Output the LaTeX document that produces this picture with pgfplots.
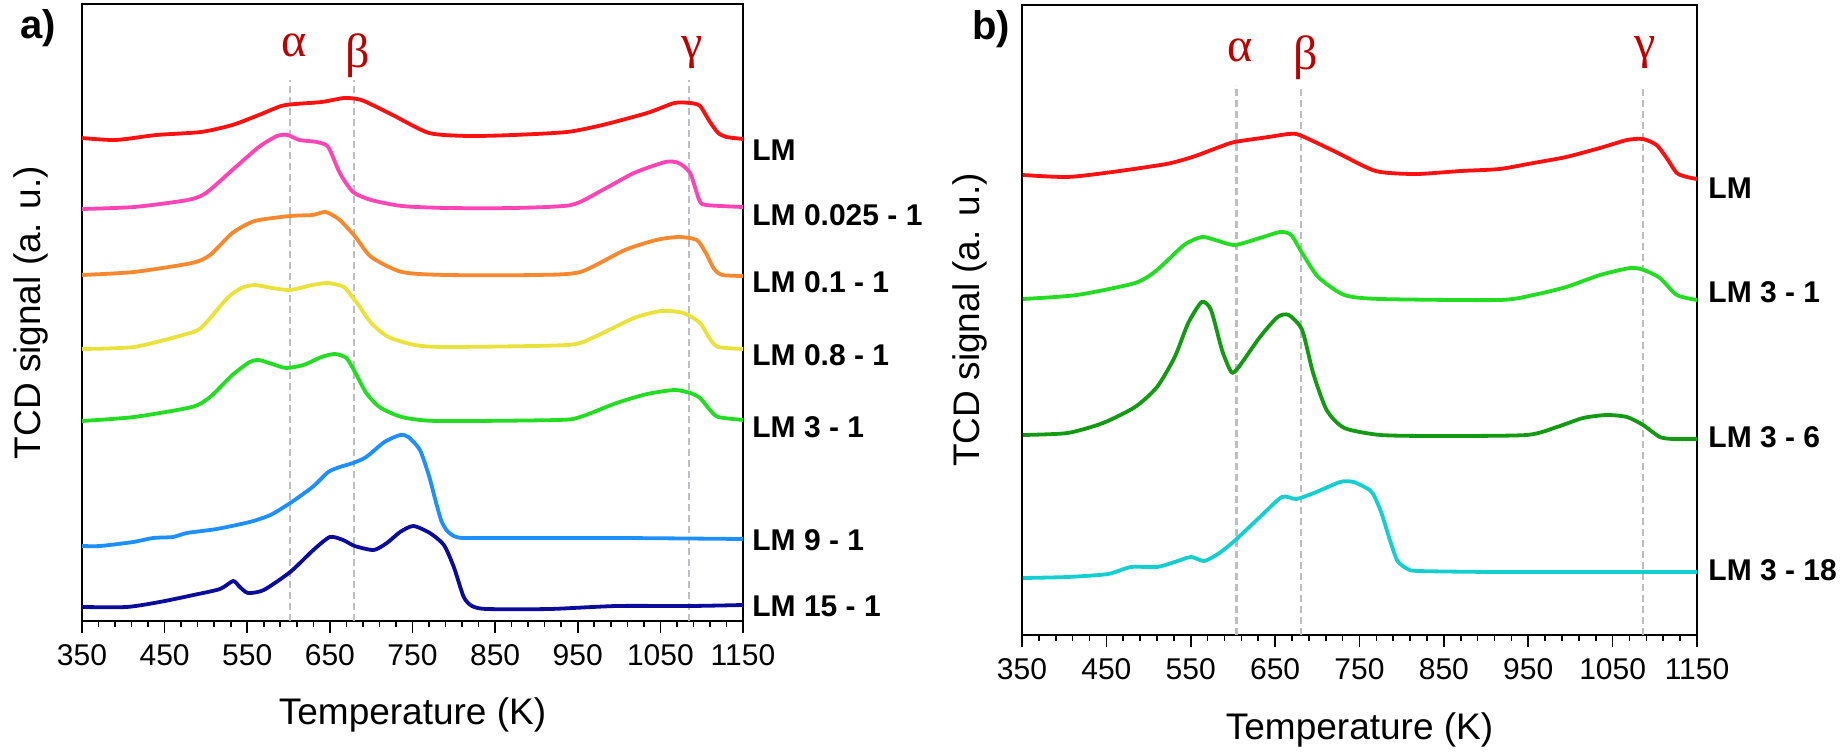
\documentclass[border=0pt]{standalone}
\usepackage{fontspec}
\setmainfont{Liberation Sans}
\newfontfamily\greekfont{Liberation Serif}
\usepackage{pgfplots}
\pgfplotsset{compat=1.18}
\definecolor{cRed}{HTML}{FF1010}
\definecolor{cPink}{HTML}{FF45B5}
\definecolor{cOrange}{HTML}{F8882E}
\definecolor{cYellow}{HTML}{E9E23A}
\definecolor{cGreen}{HTML}{22DD22}
\definecolor{cLBlue}{HTML}{1E8FFF}
\definecolor{cDBlue}{HTML}{0C0C9C}
\definecolor{cDGreen}{HTML}{129A12}
\definecolor{cCyan}{HTML}{14CFD0}
\definecolor{gkred}{HTML}{C00000}
\definecolor{dashgray}{HTML}{BDBDC4}
\pgfplotsset{
 tpr/.style={
  scale only axis, xmin=350, xmax=1150,
  xtick={350,450,...,1150}, minor x tick num=4,
  ytick=\empty,
  tick align=outside, xtick pos=bottom,
  major tick length=6pt, minor tick length=3pt,
  tick style={black, line width=0.8pt},
  axis line style={black, line width=1.1pt},
  tick label style={font=\fontsize{15}{15}\selectfont},
  xticklabel style={yshift=-2pt},
  /pgf/number format/assume math mode=true,
  /pgf/number format/1000 sep={},
  label style={font=\fontsize{18.5}{18.5}\selectfont},
  clip=false,
  every axis plot/.append style={line width=1.9pt, smooth, tension=0.4, no markers},
 },
}
\tikzset{
 dashv/.style={dashgray, line width=1.2pt, dash pattern=on 3.5pt off 2pt, sharp plot},
 rlab/.style={anchor=west, inner sep=0pt, font=\bfseries\fontsize{15}{15}\selectfont},
 gk/.style={inner sep=0pt, text=gkred, font=\greekfont\fontsize{24}{24}\selectfont},
}
\begin{document}
\begin{tikzpicture}
\useasboundingbox (0,0) rectangle (923.5pt,375.5pt);
\node[font=\bfseries\fontsize{20}{20}\selectfont, inner sep=0pt] at (19pt,361.25pt) {a)};
\node[font=\bfseries\fontsize{20}{20}\selectfont, inner sep=0pt] at (495.5pt,361pt) {b)};
% ---------------- panel a
\begin{axis}[tpr, at={(41pt,65pt)}, anchor=south west, width=330.5pt, height=308.5pt,
  ymin=0, ymax=617,
  xlabel={Temperature (K)}, ylabel={TCD signal (a. u.)},
  xlabel style={at={(axis description cs:0.5,-0.1524)}, anchor=center},
  ylabel style={at={(axis description cs:-0.0772,0.5)}, anchor=center}]
\addplot[dashv] coordinates {(602,0) (602,541)};
\addplot[dashv] coordinates {(679,0) (679,541)};
\addplot[dashv] coordinates {(1085,0) (1085,541)};
\addplot[cRed] coordinates {(350,483)(391,481)(440,486)(494,489)(532,496)(564,506)(591,515)(608,517)(640,519)(667,523)(683,522)(694,519)(726,506)(770,488)(818,485)(872,486)(937,489)(980,496)(1034,508)(1067,518)(1086,518)(1098,515)(1110,499)(1120,488)(1130,484)(1150,482)};
\addplot[cPink] coordinates {(350,412)(413,414)(478,421)(500,428)(532,451)(564,474)(586,485)(599,486)(613,481)(634,479)(648,474)(662,448)(678,429)(700,421)(737,415)(791,413)(872,413)(942,416)(980,431)(1018,448)(1056,459)(1072,458)(1086,448)(1097,421)(1105,416)(1150,414)};
\addplot[cOrange] coordinates {(350,346)(413,349)(483,358)(505,366)(532,388)(559,400)(602,405)(629,406)(645,409)(662,401)(681,384)(700,364)(737,349)(791,346)(899,346)(953,349)(1007,371)(1045,381)(1072,384)(1094,381)(1105,368)(1115,352)(1125,346)(1150,345)};
\addplot[cYellow] coordinates {(350,272)(413,274)(472,286)(494,293)(526,323)(543,333)(559,336)(580,333)(602,331)(629,336)(648,338)(667,334)(678,323)(683,318)(700,298)(721,284)(753,276)(791,274)(937,276)(970,284)(1018,303)(1051,310)(1078,308)(1098,298)(1110,282)(1120,274)(1150,272)};
\addplot[cGreen] coordinates {(350,200)(413,204)(483,214)(505,224)(532,246)(553,259)(564,261)(580,257)(597,253)(618,256)(640,264)(656,267)(670,263)(681,248)(694,228)(710,214)(737,204)(780,200)(926,201)(953,204)(997,218)(1034,227)(1067,231)(1086,228)(1098,223)(1110,211)(1120,204)(1150,201)};
\addplot[cLBlue] coordinates {(350,75)(372,75)(412,79)(436,83)(460,84)(477,88)(513,92)(553,99)(578,106)(602,118)(629,134)(648,149)(662,154)(678,158)(694,164)(716,179)(735,186)(745,184)(759,171)(770,145)(778,120)(785,100)(792,90)(800,85)(810,83)(845,83)(1000,83)(1150,82)};
\addplot[cDBlue] coordinates {(350,14)(404,14)(444,19)(485,26)(517,32)(533,40)(541,34)(551,28)(570,31)(602,49)(630,71)(650,84)(666,81)(680,75)(703,71)(719,78)(735,89)(751,95)(771,88)(788,76)(800,54)(812,24)(822,15)(840,12)(916,12)(997,15)(1086,15)(1150,16)};
\node[gk] at (axis cs:607,576) {α};
\node[gk] at (axis cs:684,565) {β};
\node[gk] at (axis cs:1089,568) {γ};
\node[rlab, xshift=4.5pt] at (axis cs:1150,471) {LM};
\node[rlab, xshift=4.5pt] at (axis cs:1150,406) {LM 0.025 - 1};
\node[rlab, xshift=4.5pt] at (axis cs:1150,339) {LM 0.1 - 1};
\node[rlab, xshift=4.5pt] at (axis cs:1150,266) {LM 0.8 - 1};
\node[rlab, xshift=4.5pt] at (axis cs:1150,194) {LM 3 - 1};
\node[rlab, xshift=4.5pt] at (axis cs:1150,81) {LM 9 - 1};
\node[rlab, xshift=4.5pt] at (axis cs:1150,15) {LM 15 - 1};
\end{axis}
% ---------------- panel b
\begin{axis}[tpr, at={(511pt,58pt)}, anchor=south west, width=337.5pt, height=315pt,
  ymin=0, ymax=630,
  xlabel={Temperature (K)}, ylabel={TCD signal (a. u.)},
  xlabel style={at={(axis description cs:0.5,-0.1508)}, anchor=center},
  ylabel style={at={(axis description cs:-0.077,0.5)}, anchor=center}]
\addplot[dashv] coordinates {(604,0) (604,550)};
\addplot[dashv] coordinates {(681,0) (681,550)};
\addplot[dashv] coordinates {(1086,0) (1086,550)};
\addplot[cRed] coordinates {(351,460)(404,458)(457,463)(521,471)(552,478)(584,488)(602,493)(642,498)(666,501)(679,500)(722,483)(769,464)(817,461)(870,464)(916,466)(956,472)(995,478)(1035,487)(1067,495)(1086,496)(1102,490)(1114,477)(1126,462)(1138,458)(1150,456)};
\addplot[cGreen] coordinates {(351,336)(415,340)(484,352)(510,365)(542,390)(563,398)(579,395)(602,390)(632,397)(656,403)(669,400)(682,382)(701,358)(732,340)(775,336)(916,335)(956,340)(995,348)(1035,360)(1071,367)(1087,365)(1106,357)(1126,340)(1150,335)};
\addplot[cDGreen] coordinates {(351,200)(404,202)(446,212)(484,228)(510,248)(531,278)(547,312)(563,333)(574,325)(587,285)(598,263)(606,267)(632,298)(653,318)(666,320)(682,305)(695,262)(711,225)(732,207)(775,200)(845,199)(948,200)(984,208)(1015,217)(1043,220)(1067,218)(1086,210)(1106,198)(1122,196)(1150,196)};
\addplot[cCyan] coordinates {(351,57)(404,58)(452,61)(479,68)(510,68)(531,73)(550,78)(566,74)(584,82)(603,95)(632,118)(658,138)(675,136)(696,142)(727,153)(743,153)(762,145)(768,138)(776,122)(786,95)(795,74)(807,66)(820,64)(916,63)(1150,63)};
\node[gk] at (axis cs:608,585) {α};
\node[gk] at (axis cs:686,577) {β};
\node[gk] at (axis cs:1088,582) {γ};
\node[rlab, xshift=5.5pt] at (axis cs:1150,447) {LM};
\node[rlab, xshift=5.5pt] at (axis cs:1150,343) {LM 3 - 1};
\node[rlab, xshift=5.5pt] at (axis cs:1150,198) {LM 3 - 6};
\node[rlab, xshift=5.5pt] at (axis cs:1150,65) {LM 3 - 18};
\end{axis}
\end{tikzpicture}
\end{document}
